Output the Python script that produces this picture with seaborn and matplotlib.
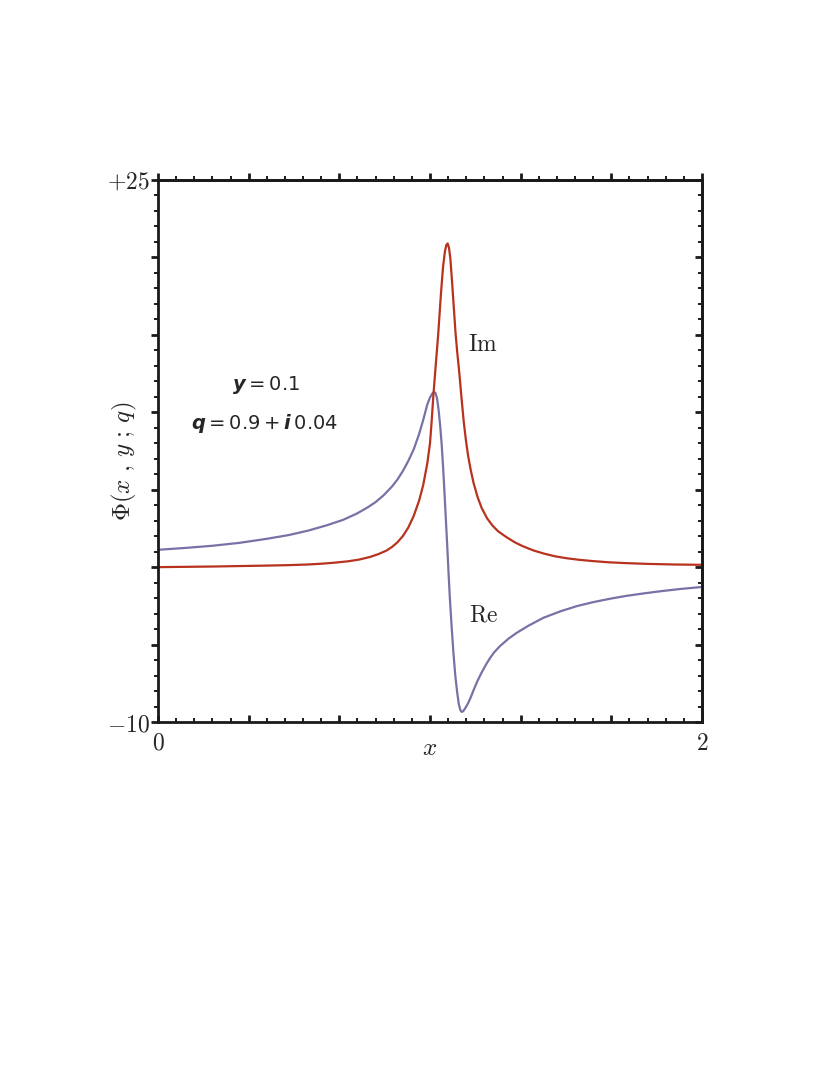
import numpy as np
import pandas as pd
import matplotlib
matplotlib.use("Agg")
import matplotlib.pyplot as plt
from matplotlib.ticker import FixedLocator, FixedFormatter
import seaborn as sns

# ---- data ----
x_im = [0.0, 0.10, 0.20, 0.30, 0.40, 0.48, 0.55, 0.60, 0.65, 0.70, 0.74, 0.78,
        0.81, 0.84, 0.86, 0.88, 0.90, 0.92, 0.94, 0.96, 0.975, 0.99, 1.0, 1.006,
        1.012, 1.02, 1.03, 1.04, 1.048, 1.055, 1.06, 1.065, 1.070, 1.075, 1.080,
        1.087, 1.094, 1.100, 1.108, 1.116, 1.124, 1.132, 1.140, 1.150, 1.160,
        1.175, 1.19, 1.21, 1.23, 1.25, 1.28, 1.31, 1.34, 1.38, 1.42, 1.46, 1.50,
        1.55, 1.60, 1.66, 1.72, 1.80, 1.90, 2.0]
y_im = [0.0, 0.02, 0.04, 0.07, 0.10, 0.13, 0.17, 0.22, 0.29, 0.38, 0.49, 0.66,
        0.84, 1.07, 1.30, 1.60, 2.0, 2.55, 3.3, 4.3, 5.3, 6.7, 8.0, 9.4,
        11.0, 12.8, 15.0, 17.6, 19.4, 20.4, 20.8, 20.9, 20.6, 19.9, 18.7,
        16.9, 15.1, 13.9, 12.5, 10.9, 9.4, 8.2, 7.2, 6.25, 5.45,
        4.52, 3.82, 3.15, 2.68, 2.32, 1.95, 1.62, 1.36, 1.08, 0.87, 0.70, 0.58,
        0.47, 0.39, 0.31, 0.26, 0.21, 0.17, 0.15]

x_re = [0.0, 0.10, 0.20, 0.30, 0.40, 0.48, 0.55, 0.62, 0.68, 0.73, 0.77, 0.80,
        0.83, 0.86, 0.88, 0.90, 0.92, 0.94, 0.96, 0.975, 0.99, 1.0, 1.008, 1.014,
        1.02, 1.026, 1.032, 1.038, 1.043, 1.048, 1.053, 1.058, 1.063, 1.068,
        1.073, 1.079, 1.086, 1.093, 1.100, 1.106, 1.112, 1.117, 1.122, 1.128,
        1.135, 1.141, 1.147, 1.154, 1.16, 1.166, 1.172, 1.18, 1.19, 1.20, 1.208,
        1.22, 1.235, 1.257, 1.29, 1.319, 1.36, 1.417, 1.48, 1.539, 1.60, 1.662,
        1.72, 1.784, 1.85, 1.92, 2.0]
y_re = [1.12, 1.24, 1.38, 1.57, 1.83, 2.07, 2.35, 2.70, 3.05, 3.45, 3.85, 4.2,
        4.65, 5.2, 5.65, 6.2, 6.85, 7.6, 8.6, 9.5, 10.5, 10.95, 11.2, 11.3,
        11.25, 10.9, 10.1, 9.0, 7.9, 6.5, 4.9, 3.2, 1.5, -0.3,
        -2.0, -3.7, -5.5, -7.0, -8.1, -8.85, -9.25, -9.35, -9.3, -9.15,
        -8.95, -8.75, -8.52, -8.22, -7.95, -7.7, -7.45, -7.15, -6.8, -6.48, -6.23,
        -5.89, -5.52, -5.1, -4.6, -4.24, -3.8, -3.27, -2.85, -2.52, -2.26, -2.04,
        -1.86, -1.70, -1.55, -1.41, -1.28]

x_limits = [0, 2]
y_limits = [-10, 25]
x_tick_labels = [r"$0$", r"$2$"]
y_tick_labels = [r"$-10$", r"$+25$"]

# ---- style ----
sns.set_style("white")
plt.rcParams["mathtext.fontset"] = "cm"
plt.rcParams["font.family"] = ["DejaVu Serif"]

red = "#B8321E"
blue = "#7772A6"
ink = "#1a1a1a"

fig = plt.figure(figsize=(8.3, 10.75), dpi=100)
ax = fig.add_axes([158 / 830, 1 - 722 / 1075, 544 / 830, 542 / 1075])

df_im = pd.DataFrame({"x": x_im, "y": y_im})
df_re = pd.DataFrame({"x": x_re, "y": y_re})
sns.lineplot(data=df_re, x="x", y="y", ax=ax, color=blue, linewidth=1.6,
             estimator=None, sort=False)
sns.lineplot(data=df_im, x="x", y="y", ax=ax, color=red, linewidth=1.6,
             estimator=None, sort=False)
for ln in ax.get_lines():
    ln.set_solid_joinstyle("round")
    ln.set_solid_capstyle("round")

ax.set_xlim(*x_limits)
ax.set_ylim(*y_limits)

xmaj = [i / 3 for i in range(7)]
xmin = [i / 15 for i in range(31)]
ymaj = list(range(-10, 26, 5))
ymin = list(range(-10, 26, 1))

xlabels = [""] * len(xmaj)
xlabels[0], xlabels[-1] = x_tick_labels
ylabels = [""] * len(ymaj)
ylabels[0], ylabels[-1] = y_tick_labels

ax.xaxis.set_major_locator(FixedLocator(xmaj))
ax.xaxis.set_minor_locator(FixedLocator(xmin))
ax.xaxis.set_major_formatter(FixedFormatter(xlabels))
ax.yaxis.set_major_locator(FixedLocator(ymaj))
ax.yaxis.set_minor_locator(FixedLocator(ymin))
ax.yaxis.set_major_formatter(FixedFormatter(ylabels))

lw_sp = 2.0
for s in ax.spines.values():
    s.set_linewidth(lw_sp)
    s.set_color(ink)

ax.tick_params(axis="x", which="both", direction="in", top=False, bottom=True,
               labelsize=17, pad=7, color=ink)
ax.tick_params(axis="y", which="both", direction="out", left=True, right=False,
               labelsize=17, pad=1, color=ink)
ax.tick_params(which="major", length=5, width=2.0)
ax.tick_params(which="minor", length=3, width=1.4)

secx = ax.secondary_xaxis("top")
secx.xaxis.set_major_locator(FixedLocator(xmaj))
secx.xaxis.set_minor_locator(FixedLocator(xmin))
secx.tick_params(which="both", direction="out", labeltop=False, color=ink)
secx.tick_params(which="major", length=5, width=2.0)
secx.tick_params(which="minor", length=3, width=1.4)
secx.spines["top"].set_linewidth(lw_sp)
secx.spines["top"].set_color(ink)

secy = ax.secondary_yaxis("right")
secy.yaxis.set_major_locator(FixedLocator(ymaj))
secy.yaxis.set_minor_locator(FixedLocator(ymin))
secy.tick_params(which="both", direction="in", labelright=False, color=ink)
secy.tick_params(which="major", length=5, width=2.0)
secy.tick_params(which="minor", length=3, width=1.4)
secy.spines["right"].set_linewidth(lw_sp)
secy.spines["right"].set_color(ink)

ax.set_xlabel(r"$x$", fontsize=18)
ax.xaxis.set_label_coords(0.5, -0.028)
ax.set_ylabel(r"$\Phi(x\ ,\,y\ ;\,q)$", fontsize=18)
ax.yaxis.set_label_coords(-0.035, 0.48)

ax.text(0.598, 0.6956, r"$\mathrm{Im}$", transform=ax.transAxes, fontsize=17,
        ha="center", va="center")
ax.text(0.599, 0.197, r"$\mathrm{Re}$", transform=ax.transAxes, fontsize=17,
        ha="center", va="center")
ax.text(0.1985, 0.6218, r"$\mathbfit{y} = 0.1$", transform=ax.transAxes,
        fontsize=14, ha="center", va="center", math_fontfamily="dejavusans")
ax.text(0.195, 0.550, r"$\mathbfit{q} = 0.9 + \mathbfit{i}\,0.04$",
        transform=ax.transAxes, fontsize=14, ha="center", va="center",
        math_fontfamily="dejavusans")

fig.savefig("out.png", dpi=100)
